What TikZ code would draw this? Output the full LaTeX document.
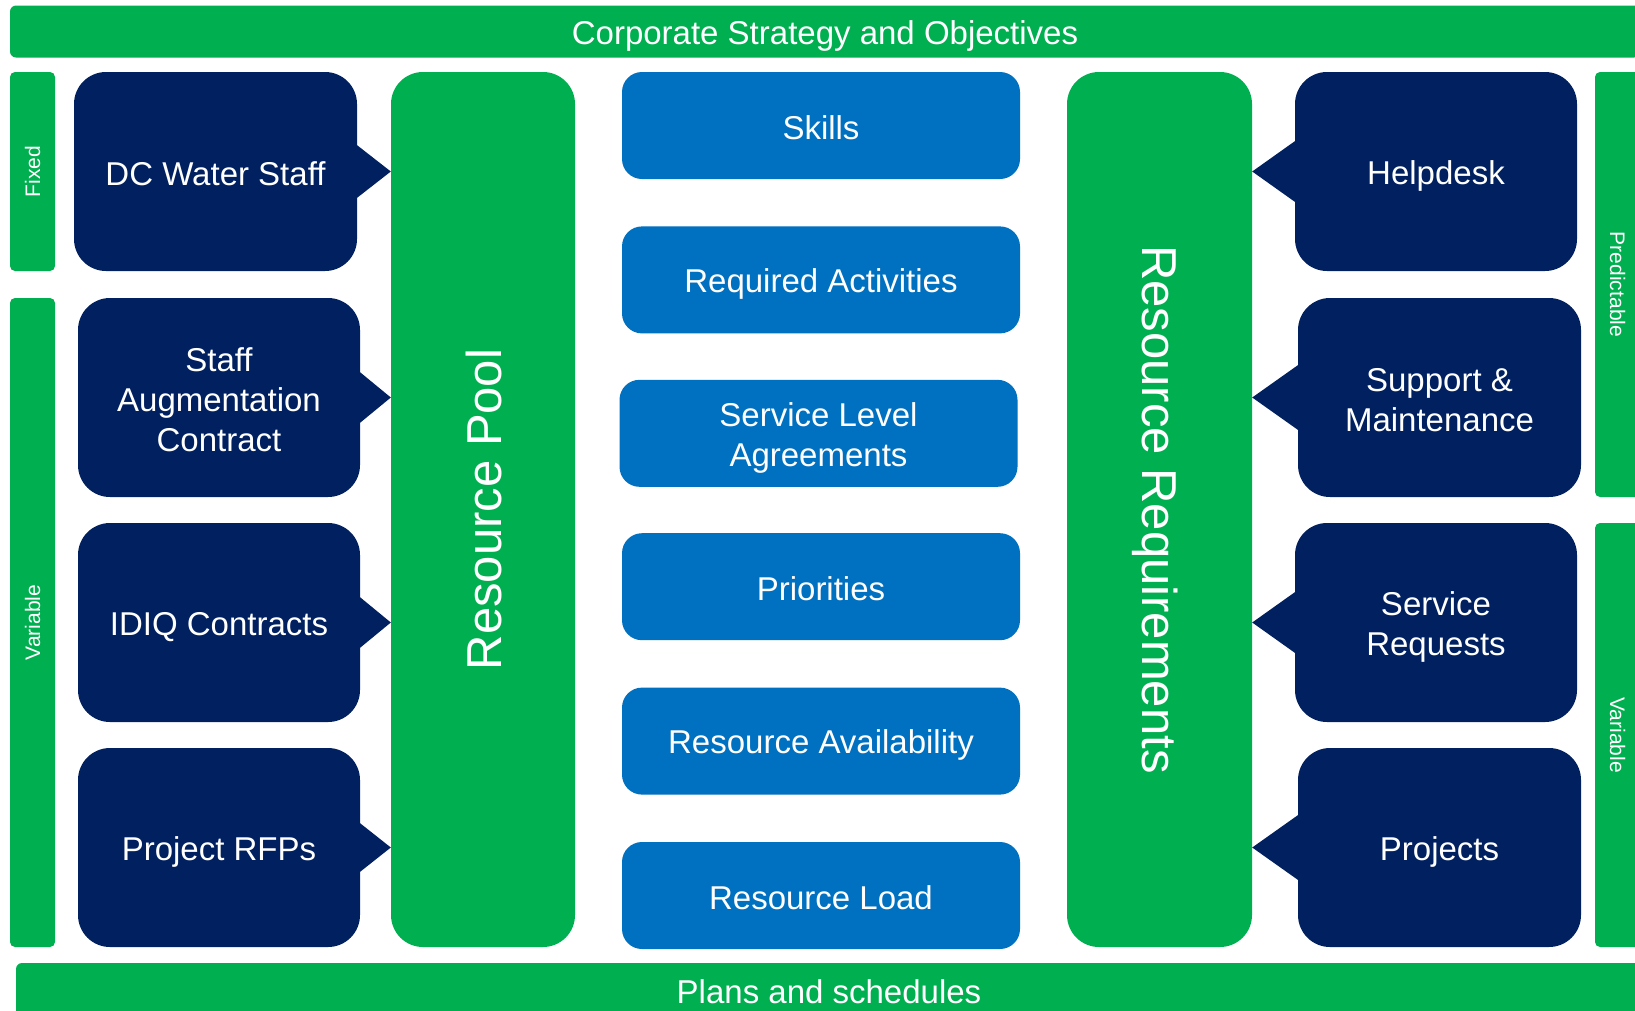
\documentclass[tikz,border=0pt]{standalone}
\usepackage{fontspec}
\setmainfont{Liberation Sans}
\usepackage{tikz}
\usetikzlibrary{positioning}
\definecolor{bargreen}{HTML}{00B050}
\definecolor{srcnavy}{HTML}{002060}
\definecolor{factorblue}{HTML}{0070C0}
\newcommand\boxstrut{\rule[-5pt]{0pt}{37.5pt}}
\newcommand\pillarstrut{\rule[-7pt]{0pt}{51pt}}

\begin{document}
\begin{tikzpicture}[x=1pt, y=-1pt,
  lined/.style={execute at begin node=\boxstrut, execute at end node=\boxstrut},
  band/.style={lined, fill=bargreen, rounded corners=6pt, text=white, minimum height=52pt, font=\fontsize{33}{40}\selectfont},
  tag/.style={fill=bargreen, rounded corners=5pt, text=white, minimum height=45pt, font=\fontsize{21}{25}\selectfont},
  source/.style={lined, fill=srcnavy, rounded corners=32pt, text=white, minimum width=282pt, minimum height=199pt, align=center, font=\fontsize{33}{40}\selectfont},
  pillar/.style={fill=bargreen, rounded corners=32pt, text=white, minimum width=875pt, minimum height=185pt, font=\fontsize{49}{58}\selectfont,
    execute at begin node=\pillarstrut},
  factor/.style={lined, fill=factorblue, rounded corners=20pt, text=white, minimum width=398pt, minimum height=107pt, align=center, font=\fontsize{33}{40}\selectfont},
  tip/.style={fill=srcnavy}
]
  \clip (0,0) rectangle (1635,1010);
  \fill[white] (0,0) rectangle (1635,1010);

  % top and bottom bands
  \node[band, minimum width=1630pt] (corp) at (825,31.5) {Corporate Strategy and Objectives};
  \node[band, minimum width=1626pt, minimum height=54pt] (plans) at (829,990) {Plans and schedules};

  % side tags
  \node[tag, rotate=90, minimum width=199pt] (fixedL) at (32.5,171.5) {Fixed};
  \node[tag, rotate=90, minimum width=649pt] (varL) at (32.5,622.5) {Variable};
  \node[tag, rotate=-90, minimum width=425pt] (predR) at (1617.5,284.5) {Predictable};
  \node[tag, rotate=-90, minimum width=424pt] (varR) at (1617.5,735) {Variable};

  % pillars
  \node[pillar, rotate=90, minimum height=184pt] (pool) at (483,509.5) {Resource Pool};
  \node[pillar, rotate=-90] (req) at (1159.5,509.5) {Resource Requirements};

  % supply side
  \node[source, minimum width=283pt] (dcw) at (215.5,171.5) {DC Water Staff};
  \node[source] (staff) at (219,397.5) {\boxstrut Staff\\Augmentation\\Contract};
  \node[source] (idiq) at (219,622.5) {IDIQ Contracts};
  \node[source] (rfp) at (219,847.5) {Project RFPs};

  % demand side
  \node[source] (help) at (1436,171.5) {Helpdesk};
  \node[source, minimum width=283pt] (supp) at (1439.5,397.5) {\boxstrut Support \&\\Maintenance};
  \node[source] (sreq) at (1436,622.5) {\boxstrut Service\\Requests};
  \node[source, minimum width=283pt] (proj) at (1439.5,847.5) {Projects};

  % middle factors
  \node[factor] (skills) at (821,125.5) {Skills};
  \node[factor, below=47pt of skills] (activ) {Required Activities};
  \node[factor, below=46pt of activ, xshift=-2.5pt] (sla) {\boxstrut Service Level\\Agreements};
  \node[factor, below=46pt of sla, xshift=2.5pt] (prio) {Priorities};
  \node[factor, below=47pt of prio] (avail) {Resource Availability};
  \node[factor, below=47pt of avail] (load) {Resource Load};

  % callout pointers
  \fill[tip] ([xshift=-1pt, yshift=27pt]dcw.east) -- ([xshift=-1pt, yshift=-27pt]dcw.east) -- (dcw.east -| pool.north) -- cycle;
  \fill[tip] ([xshift=-1pt, yshift=26pt]staff.east) -- ([xshift=-1pt, yshift=-26pt]staff.east) -- (staff.east -| pool.north) -- cycle;
  \fill[tip] ([xshift=-1pt, yshift=26pt]idiq.east) -- ([xshift=-1pt, yshift=-26pt]idiq.east) -- (idiq.east -| pool.north) -- cycle;
  \fill[tip] ([xshift=-1pt, yshift=25pt]rfp.east) -- ([xshift=-1pt, yshift=-25pt]rfp.east) -- (rfp.east -| pool.north) -- cycle;
  \fill[tip] ([xshift=1pt, yshift=31pt]help.west) -- ([xshift=1pt, yshift=-31pt]help.west) -- (help.west -| req.north) -- cycle;
  \fill[tip] ([xshift=1pt, yshift=33pt]supp.west) -- ([xshift=1pt, yshift=-33pt]supp.west) -- (supp.west -| req.north) -- cycle;
  \fill[tip] ([xshift=1pt, yshift=31pt]sreq.west) -- ([xshift=1pt, yshift=-31pt]sreq.west) -- (sreq.west -| req.north) -- cycle;
  \fill[tip] ([xshift=1pt, yshift=33pt]proj.west) -- ([xshift=1pt, yshift=-33pt]proj.west) -- (proj.west -| req.north) -- cycle;
\end{tikzpicture}
\end{document}
